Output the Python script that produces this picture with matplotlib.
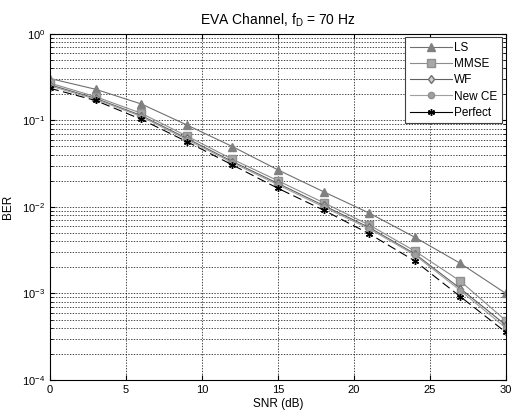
import numpy as np
import matplotlib.pyplot as plt
from matplotlib.lines import Line2D

plt.rcParams['font.family'] = ['Liberation Sans', 'DejaVu Sans']

# Veriler
snr = [0, 3, 6, 9, 12, 15, 18, 21, 24, 27, 30]
ber_ls = [0.305, 0.229, 0.155, 0.0887, 0.0499, 0.0268, 0.0150, 0.0085, 0.00447, 0.00223, 0.00100]
ber_mmse = [0.270, 0.188, 0.121, 0.066, 0.0356, 0.0201, 0.0112, 0.0062, 0.0031, 0.00139, 0.000485]
ber_wf = [0.258, 0.180, 0.114, 0.062, 0.0335, 0.0187, 0.0104, 0.0058, 0.00288, 0.00114, 0.00043]
ber_newce = [0.250, 0.176, 0.111, 0.060, 0.0325, 0.0180, 0.0100, 0.0056, 0.00279, 0.00108, 0.00040]
ber_perfect = [0.235, 0.170, 0.103, 0.0569, 0.0306, 0.0164, 0.0092, 0.0049, 0.00238, 0.00092, 0.000356]

# asterisk marker like MATLAB '*'
star = (6, 2, 0)

styles = [
    dict(color='#707070', marker='^', ms=5.5, mfc='#808080', mec='#808080'),
    dict(color='#8c8c8c', marker='s', ms=5.5, mfc='#a8a8a8', mec='#909090'),
    dict(color='#606060', marker='d', ms=4.5, mfc='#d0d0d0', mec='#707070'),
    dict(color='#a0a0a0', marker='o', ms=4.5, mfc='#a0a0a0', mec='#909090'),
    dict(color='k', marker=star, ms=5, mew=1.0),
]
series = [ber_ls, ber_mmse, ber_wf, ber_newce, ber_perfect]
labels = ['LS', 'MMSE', 'WF', 'New CE', 'Perfect']

fig = plt.figure(figsize=(5.11, 4.12), dpi=100)
ax = fig.add_axes([0.098, 0.0777, 0.892, 0.84])

for i, (y, st) in enumerate(zip(series, styles)):
    ls = (0, (8, 4)) if i == 4 else '-'
    ax.semilogy(snr, y, ls=ls, lw=0.8, **st)

handles = [Line2D([], [], lw=0.8, **st) for st in styles]
leg = ax.legend(handles, labels, loc='upper right',
                fontsize=8.5, fancybox=False, framealpha=1, edgecolor='#404040',
                borderaxespad=0.3, handlelength=3.6, labelspacing=0.35, handletextpad=0.2,
                borderpad=0.4)
leg.get_frame().set_linewidth(0.8)

ax.set_xlim(0, 30)
ax.set_ylim(1e-4, 1)
ax.set_xticks([0, 5, 10, 15, 20, 25, 30])
ax.grid(True, which='major', color='k', ls=(0, (2, 2)), lw=0.5)
ax.grid(True, which='minor', axis='y', color='k', ls=(0, (2, 2)), lw=0.5)
ax.tick_params(which='both', direction='in', labelsize=8, top=True, right=True)
for s in ax.spines.values():
    s.set_linewidth(0.8)

ax.set_xlabel('SNR (dB)', fontsize=8.5, labelpad=2)
ax.set_ylabel('BER', fontsize=8.5, labelpad=6)
ax.set_title('EVA Channel, $\\mathregular{f_D}$ = 70 Hz', fontsize=10, pad=7)

fig.savefig('out.png', dpi=100)
